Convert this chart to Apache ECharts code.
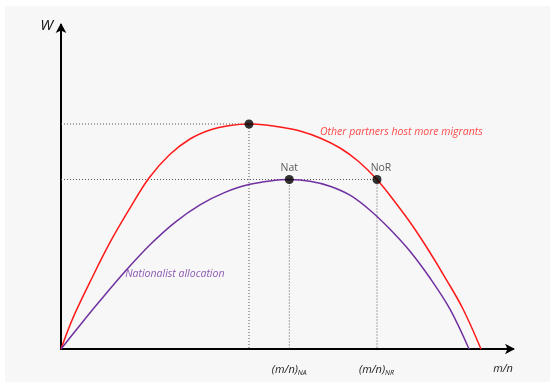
<!DOCTYPE html>
<html>
<head>
<meta charset="utf-8">
<script src="https://cdn.jsdelivr.net/npm/echarts@6/dist/echarts.min.js"></script>
<style>
  html, body { margin: 0; padding: 0; background: #ffffff; }
  #chart { width: 555px; height: 382px; }
</style>
</head>
<body>
<div id="chart"></div>
<script>
// Welfare W against the migrant share m/n (schematic units 0–100)
const otherPartnersX = [0, 2.65, 6.42, 10.84, 15.27, 19.47, 24.12, 28.54, 32.96, 37.39, 41.59, 45.35, 49.12, 52.88, 57.30, 61.73, 65.71, 69.91, 73.89, 77.65, 81.42, 85.18, 88.94, 92.92];
const otherPartnersW = [0, 9.6, 20.7, 32.9, 43.5, 52.78, 60.09, 64.81, 67.59, 68.98, 69.44, 69.14, 68.36, 67.28, 65.12, 62.04, 58.02, 52.31, 45.37, 38.27, 30.25, 21.60, 12.35, 0];

const nationalistX = [0, 4.20, 8.63, 14.16, 19.69, 25.22, 30.75, 36.28, 41.81, 46.24, 50.51, 55.09, 59.51, 63.94, 68.36, 72.79, 77.21, 81.64, 86.06, 90.27];
const nationalistW = [0, 7.33, 14.86, 23.89, 32.15, 39.09, 44.49, 48.35, 50.82, 51.87, 52.31, 51.79, 50.25, 47.47, 42.84, 36.98, 30.19, 21.9, 12.3, 0];

// Highlighted points: red peak, Nat and NoR
const pointNames = ['', 'Nat', 'NoR'];
const pointX = [41.59, 50.51, 69.91];
const pointW = [69.44, 52.31, 52.31];

// Axis tick labels
const tickValues = [50.5, 69.8, 97.8];
const tickMain = ['(m/n)', '(m/n)', 'm/n'];
const tickSub = ['NA', 'NR', ''];

const curveLabels = ['Other partners host more migrants', 'Nationalist allocation'];
const curveLabelX = [57.3, 14.2];
const curveLabelW = [66.9, 23.1];

const zip = (xs, ys) => xs.map((x, i) => [x, ys[i]]);

const guide = { color: '#555', width: 1, type: [1, 2] };
const guideSeries = (pts) => ({
  type: 'line', data: pts, symbol: 'none', silent: true, z: 1,
  lineStyle: guide
});

const curveSeries = (name, xs, ys, color) => ({
  name, type: 'line', smooth: 0.35, symbol: 'none', z: 3,
  data: zip(xs, ys),
  lineStyle: { color, width: 1.5 }
});

const chart = echarts.init(document.getElementById('chart'), null, { renderer: 'canvas' });

chart.setOption({
  animation: false,
  backgroundColor: '#ffffff',
  graphic: [{
    type: 'rect', z: -10, silent: true,
    shape: { x: 5, y: 6, width: 545, height: 376 },
    style: { fill: '#f7f7f7' }
  }],
  grid: { left: 61, top: 25, width: 452, height: 324, containLabel: false },
  xAxis: {
    type: 'value', min: 0, max: 100,
    splitLine: { show: false },
    axisTick: { show: false },
    axisLine: {
      lineStyle: { color: '#000', width: 2 },
      symbol: ['none', 'arrow'], symbolSize: [8, 10], symbolOffset: [0, 2]
    },
    axisLabel: {
      customValues: tickValues,
      margin: 14,
      formatter: (v) => {
        const i = tickValues.indexOf(v);
        return i < 0 ? '' : '{m|' + tickMain[i] + '}' + (tickSub[i] ? '{s|' + tickSub[i] + '}' : '');
      },
      rich: {
        m: { fontFamily: 'Open Sans', fontStyle: 'italic', fontSize: 11, color: '#222' },
        s: { fontFamily: 'Open Sans', fontStyle: 'italic', fontSize: 7, color: '#222', verticalAlign: 'bottom', padding: [6, 0, 0, 0] }
      }
    }
  },
  yAxis: {
    type: 'value', min: 0, max: 100,
    name: 'W',
    nameLocation: 'end', nameGap: -1,
    nameTextStyle: {
      fontFamily: 'Open Sans', fontStyle: 'italic', fontSize: 15, color: '#111',
      align: 'right', verticalAlign: 'middle', padding: [0, 8, 0, 0]
    },
    splitLine: { show: false },
    axisTick: { show: false },
    axisLabel: { show: false },
    axisLine: {
      lineStyle: { color: '#000', width: 2 },
      symbol: ['none', 'arrow'], symbolSize: [8, 10], symbolOffset: [0, 2]
    }
  },
  series: [
    guideSeries([[0, pointW[0]], [pointX[0], pointW[0]], [pointX[0], 0]]),
    guideSeries([[0, pointW[2]], [pointX[2], pointW[2]], [pointX[2], 0]]),
    guideSeries([[pointX[1], pointW[1]], [pointX[1], 0]]),
    curveSeries(curveLabels[0], otherPartnersX, otherPartnersW, '#ff1a1a'),
    curveSeries(curveLabels[1], nationalistX, nationalistW, '#7030a0'),
    {
      type: 'scatter', z: 5, symbolSize: 9,
      itemStyle: { color: '#000' },
      data: pointX.map((x, i) => ({
        value: [x, pointW[i]],
        label: {
          show: !!pointNames[i], formatter: pointNames[i], position: 'top',
          distance: 1, offset: i === 2 ? [4, 0] : [0, 0],
          fontFamily: 'Open Sans', fontSize: 10.5, color: '#333'
        }
      }))
    },
    {
      type: 'scatter', symbolSize: 0, silent: true, z: 6,
      data: curveLabelX.map((x, i) => ({
        value: [x, curveLabelW[i]],
        label: {
          show: true, position: 'right', distance: 0,
          formatter: curveLabels[i],
          fontFamily: 'Open Sans', fontStyle: 'italic', fontSize: 10.5,
          color: i === 0 ? '#ff1a1a' : '#7030a0'
        }
      }))
    }
  ]
});
</script>
</body>
</html>
